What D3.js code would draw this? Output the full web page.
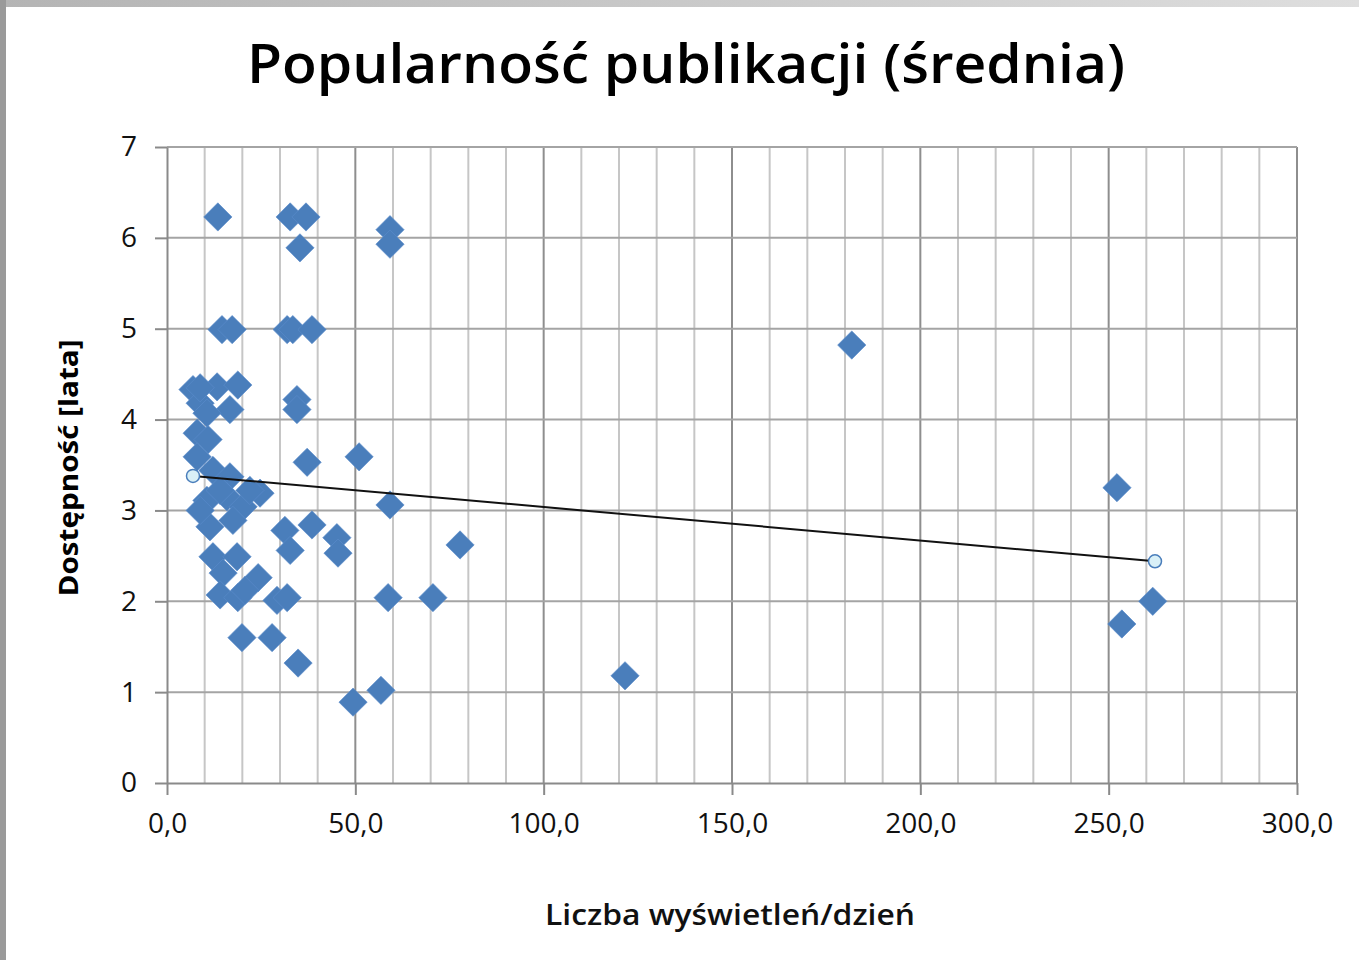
<!DOCTYPE html>
<html lang="pl">
<head>
<meta charset="UTF-8" />
<title>Popularność publikacji</title>
<style>
  html, body {
    margin: 0;
    padding: 0;
    background: #fff;
    overflow: hidden;
  }
  svg {
    display: block;
    font-family: "Open Sans", "Noto Sans", sans-serif;
  }
  .grid-h line { stroke: #a4a4a4; stroke-width: 2px; }
  .grid-v line { stroke: #c6c6c6; stroke-width: 2px; }
  .grid-v line.major { stroke: #8e8e8e; }
  .tick-label { font-size: 28px; fill: #111; }
</style>
</head>
<body>
<svg id="chart" width="1359" height="960"></svg>

<script src="https://d3js.org/d3.v7.min.js"></script>
<script>
// views per day (x) and availability in years (y)
const viewsPerDay = [
  13.5, 32.7, 36.9, 35.3, 59.2, 59.2,
  14.6, 17.3, 31.9, 33.4, 38.5, 181.8,
  6.9, 13.3, 18.8, 8.8, 8.8, 16.7, 10.6, 8.0, 10.9, 8.0,
  34.5, 34.5, 37.2, 51.0,
  12.2, 16.7, 24.7, 10.6, 15.9, 20.2, 11.4, 17.5, 8.8, 14.1, 22.0,
  59.2, 252.2,
  31.3, 38.5, 32.7, 45.1, 45.4, 77.8,
  12.2, 18.6, 14.9, 24.2, 14.1, 18.8, 20.7, 29.2, 31.9, 58.7, 70.6,
  19.9, 27.9, 34.8, 49.4, 56.8, 121.6,
  261.7, 253.5
];
const availabilityYears = [
  6.23, 6.23, 6.23, 5.89, 6.09, 5.93,
  4.99, 4.99, 4.99, 4.99, 4.99, 4.82,
  4.33, 4.36, 4.38, 4.18, 4.35, 4.11, 4.07, 3.85, 3.78, 3.59,
  4.22, 4.11, 3.53, 3.59,
  3.44, 3.37, 3.19, 3.11, 3.15, 3.04, 2.82, 2.89, 3.00, 3.22, 3.22,
  3.06, 3.25,
  2.78, 2.84, 2.56, 2.70, 2.53, 2.62,
  2.49, 2.49, 2.31, 2.26, 2.07, 2.04, 2.12, 2.01, 2.04, 2.04, 2.04,
  1.60, 1.60, 1.32, 0.89, 1.02, 1.18,
  2.00, 1.75
];

// linear trend line end points
const trendX = [6.9, 262.3];
const trendY = [3.38, 2.44];

const xTicks = [0, 50, 100, 150, 200, 250, 300];
const yTicks = [0, 1, 2, 3, 4, 5, 6, 7];

const svg = d3.select("#chart");

// grey frame strips along the top and left edge
const grad = svg.append("defs").append("linearGradient")
  .attr("id", "topStrip").attr("x1", 0).attr("x2", 1);
grad.append("stop").attr("offset", 0).attr("stop-color", "#b4b4b4");
grad.append("stop").attr("offset", 1).attr("stop-color", "#dedede");
svg.append("rect").attr("x", 0).attr("y", 0).attr("width", 1359).attr("height", 7).attr("fill", "url(#topStrip)");
svg.append("rect").attr("x", 0).attr("y", 0).attr("width", 6).attr("height", 960).attr("fill", "#9a9a9a");

const plot = { left: 167, right: 1297, top: 147, bottom: 783 };

const x = d3.scaleLinear().domain([0, 300]).range([plot.left, plot.right]);
const y = d3.scaleLinear().domain([0, 7]).range([plot.bottom, plot.top]);

// vertical grid every 10, darker every 50
svg.append("g").attr("class", "grid-v")
  .selectAll("line")
  .data(d3.range(10, 301, 10))
  .join("line")
  .attr("class", d => d % 50 === 0 ? "major" : null)
  .attr("x1", d => x(d)).attr("x2", d => x(d))
  .attr("y1", plot.top).attr("y2", plot.bottom);

// horizontal grid
svg.append("g").attr("class", "grid-h")
  .selectAll("line")
  .data(yTicks.slice(1))
  .join("line")
  .attr("x1", plot.left).attr("x2", plot.right)
  .attr("y1", d => y(d)).attr("y2", d => y(d));

// axes
const xAxis = svg.append("g")
  .attr("transform", `translate(0,${plot.bottom})`)
  .call(d3.axisBottom(x).tickValues(xTicks).tickSize(12).tickSizeOuter(0)
    .tickFormat(d => d3.format(".1f")(d).replace(".", ",")));
const yAxis = svg.append("g")
  .attr("transform", `translate(${plot.left},0)`)
  .call(d3.axisLeft(y).tickValues(yTicks).tickSize(12).tickSizeOuter(0)
    .tickFormat(d3.format("d")));

[xAxis, yAxis].forEach(a => {
  a.attr("font-family", null).attr("font-size", null);
  a.select(".domain").attr("stroke", "#8a8a8a").attr("stroke-width", 2);
  a.selectAll(".tick line").attr("stroke", "#8a8a8a").attr("stroke-width", 2);
  a.selectAll(".tick text").attr("class", "tick-label");
});
xAxis.selectAll(".tick text").attr("y", 30);
yAxis.selectAll(".tick text").attr("x", -30);

// diamonds
const diamond = d3.symbol().type(d3.symbolSquare).size(400);
svg.append("g")
  .selectAll("path")
  .data(viewsPerDay.map((v, i) => [v, availabilityYears[i]]))
  .join("path")
  .attr("d", diamond)
  .attr("transform", d => `translate(${x(d[0])},${y(d[1])}) rotate(45)`)
  .attr("fill", "#4a7ebb")
  .attr("stroke", "#5b8ccb")
  .attr("stroke-width", 0.6);

// trend line
const trend = trendX.map((v, i) => [v, trendY[i]]);
svg.append("path")
  .datum(trend)
  .attr("d", d3.line().x(d => x(d[0])).y(d => y(d[1])))
  .attr("stroke", "#111")
  .attr("stroke-width", 2)
  .attr("fill", "none");
svg.append("g")
  .selectAll("circle")
  .data(trend)
  .join("circle")
  .attr("cx", d => x(d[0])).attr("cy", d => y(d[1]))
  .attr("r", 6.5)
  .attr("fill", "#d9f0f7")
  .attr("stroke", "#4a7ebb")
  .attr("stroke-width", 1.5);

// titles
svg.append("text")
  .attr("x", 686).attr("y", 83)
  .attr("text-anchor", "middle")
  .attr("font-size", 54).attr("font-weight", 600)
  .attr("textLength", 878).attr("lengthAdjust", "spacingAndGlyphs")
  .attr("fill", "#000")
  .text("Popularność publikacji (średnia)");

svg.append("text")
  .attr("x", 730).attr("y", 925)
  .attr("text-anchor", "middle")
  .attr("font-size", 28).attr("font-weight", 600)
  .attr("textLength", 370).attr("lengthAdjust", "spacingAndGlyphs")
  .attr("fill", "#111")
  .text("Liczba wyświetleń/dzień");

svg.append("text")
  .attr("transform", "translate(78,468) rotate(-90)")
  .attr("text-anchor", "middle")
  .attr("font-size", 27).attr("font-weight", 700)
  .attr("textLength", 257).attr("lengthAdjust", "spacingAndGlyphs")
  .attr("fill", "#000")
  .text("Dostępność [lata]");
</script>
</body>
</html>
